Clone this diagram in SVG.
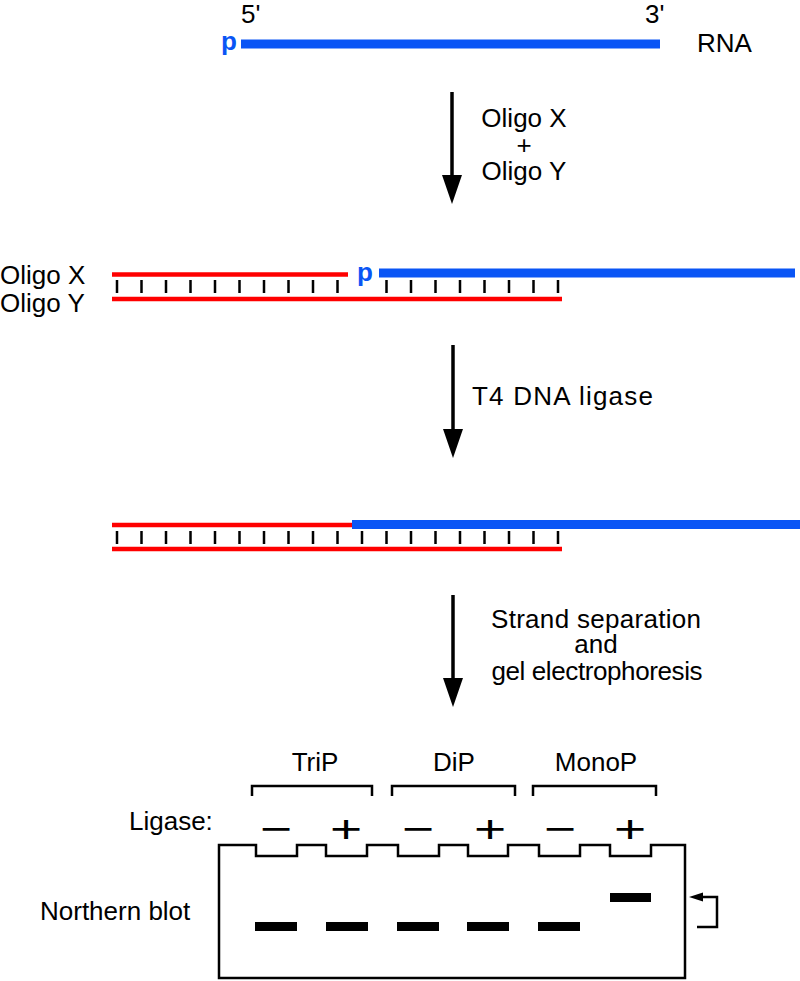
<svg xmlns="http://www.w3.org/2000/svg" width="800" height="981" viewBox="0 0 800 981">
<style>
text{font-family:"Liberation Sans",Arial,Helvetica,sans-serif;fill:#000;font-size:26px}
.mid{text-anchor:middle}
.pm{font-size:38px;text-anchor:middle}
.p{fill:#0a55f5;font-weight:bold}
.blue{stroke:#0a55f5;stroke-width:9;fill:none}
.red{stroke:#ff0000;stroke-width:4.5;fill:none}
.tick{stroke:#000;stroke-width:2.5;fill:none}
.shaft{stroke:#000;stroke-width:3.5;fill:none}
.blk{stroke:#000;stroke-width:2.5;fill:none}
.band{fill:#000}
</style>
<defs>
<g id="ticks">
<path class="tick" d="M117,0v13M141.5,0v13M166,0v13M190.5,0v13M215,0v13M239.5,0v13M264,0v13M288.5,0v13M313,0v13M337.5,0v13M386.5,0v13M411,0v13M435.5,0v13M460,0v13M484.5,0v13M509,0v13M533.5,0v13M558,0v13"/>
</g>
</defs>

<g id="rna">
<text x="241" y="23" font-size="25">5'</text>
<text x="645" y="23" font-size="25">3'</text>
<text class="p" x="221" y="50" font-size="28">p</text>
<line class="blue" x1="241" y1="44" x2="660" y2="44"/>
<text x="697" y="52">RNA</text>
</g>

<g id="step1">
<text class="mid" x="524" y="127">Oligo X</text>
<text class="mid" x="524" y="154">+</text>
<text class="mid" x="524" y="180">Oligo Y</text>
</g>

<g id="duplex1">
<text x="0" y="284">Oligo X</text>
<text x="0" y="312">Oligo Y</text>
<line class="red" x1="112" y1="274.5" x2="348" y2="274.5"/>
<text class="p" x="357" y="281" font-size="26">p</text>
<line class="blue" x1="379" y1="273" x2="795" y2="273"/>
<use href="#ticks" y="280"/>
<line class="red" x1="112" y1="299" x2="562" y2="299"/>
</g>

<g id="step2">
<text x="472" y="405" textLength="181" lengthAdjust="spacing">T4 DNA ligase</text>
</g>

<g id="duplex2">
<line class="red" x1="112" y1="525" x2="352" y2="525"/>
<line class="blue" x1="352" y1="524.5" x2="800" y2="524.5"/>
<use href="#ticks" y="531"/>
<path class="tick" d="M362,531v13"/>
<line class="red" x1="112" y1="549" x2="562" y2="549"/>
</g>

<g id="step3">
<text class="mid" x="596" y="628" textLength="210" lengthAdjust="spacing">Strand separation</text>
<text class="mid" x="596" y="653">and</text>
<text class="mid" x="597" y="680" textLength="211" lengthAdjust="spacing">gel electrophoresis</text>
</g>

<g id="connectors">
<line class="shaft" x1="452" y1="92" x2="452" y2="178"/>
<polygon points="442,175 462,175 452,204" fill="#000"/>
<line class="shaft" x1="453" y1="345" x2="453" y2="432"/>
<polygon points="443,429 463,429 453,458" fill="#000"/>
<line class="shaft" x1="453" y1="595" x2="453" y2="681"/>
<polygon points="443,678 463,678 453,707" fill="#000"/>
</g>

<g id="groups">
<text class="mid" x="315" y="771" font-size="25">TriP</text>
<text class="mid" x="454" y="771" font-size="25">DiP</text>
<text class="mid" x="596" y="771" font-size="25">MonoP</text>
<path class="blk" d="M252,796V786H372V796M392,796V786H515V796M533,796V786H656V796"/>
</g>

<g id="ligase">
<text x="129" y="830">Ligase:</text>
<text class="pm" transform="translate(276,842) scale(1.45,1)">−</text>
<text class="pm" transform="translate(346,842) scale(1.45,1)">+</text>
<text class="pm" transform="translate(418,842) scale(1.45,1)">−</text>
<text class="pm" transform="translate(490,842) scale(1.45,1)">+</text>
<text class="pm" transform="translate(560,842) scale(1.45,1)">−</text>
<text class="pm" transform="translate(630,842) scale(1.45,1)">+</text>
</g>

<g id="gel">
<text x="40" y="920">Northern blot</text>
<path class="blk" d="M219,845H256V856H297V845H326V856H367V845H398V856H439V845H468V856H508V845H539V856H580V845H610V856H651V845H685V978H219Z"/>
<rect class="band" x="255" y="922" width="42" height="9"/>
<rect class="band" x="326" y="922" width="42" height="9"/>
<rect class="band" x="397" y="922" width="42" height="9"/>
<rect class="band" x="467" y="922" width="42" height="9"/>
<rect class="band" x="538" y="922" width="42" height="9"/>
<rect class="band" x="610" y="893" width="41" height="9"/>
<path class="blk" d="M697,927H717V897H700"/>
<polygon points="689,897 703,892.5 703,901.5" fill="#000"/>
</g>
</svg>
